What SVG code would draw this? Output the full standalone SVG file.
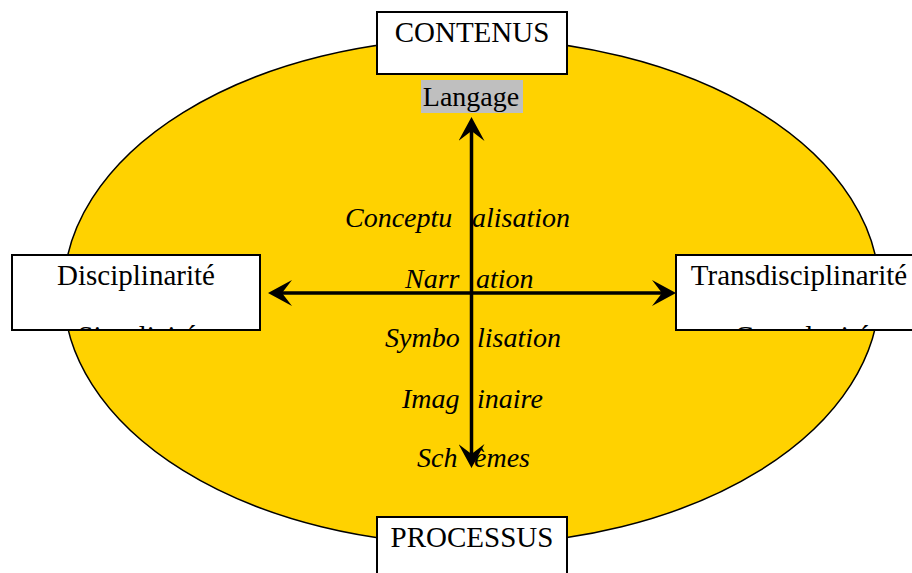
<svg xmlns="http://www.w3.org/2000/svg" width="912" height="573" viewBox="0 0 912 573">
<style>
.box{fill:#ffffff;stroke:#000000;stroke-width:2}
.t{font-family:"Liberation Serif","Times New Roman",serif;font-size:29px;fill:#000000}
.it{font-family:"Liberation Serif","Times New Roman",serif;font-size:28px;font-style:italic;fill:#000000}
.ax{stroke:#000000;stroke-width:3.5;fill:none}
</style>
<defs>
<marker id="head" markerUnits="userSpaceOnUse" viewBox="0 0 24 26" markerWidth="24" markerHeight="26" refX="10" refY="13" orient="auto-start-reverse">
<path d="M0,0 L24,13 L0,26 L10,13 Z" fill="#000000"/>
</marker>
<clipPath id="clipL"><rect x="13" y="256" width="246" height="73"/></clipPath>
<clipPath id="clipR"><rect x="677" y="256" width="244" height="73"/></clipPath>
</defs>
<rect x="0" y="0" width="912" height="573" fill="#ffffff"/>
<ellipse id="cycle" cx="471.5" cy="291.5" rx="408" ry="253" fill="#FFD200" stroke="#000000" stroke-width="1.5"/>
<g id="contenus">
<rect class="box" x="377" y="12" width="190" height="62"/>
<text class="t" x="472" y="42" text-anchor="middle">CONTENUS</text>
</g>
<g id="processus">
<rect class="box" x="377" y="517" width="190" height="70"/>
<text class="t" x="472" y="547" text-anchor="middle">PROCESSUS</text>
</g>
<g id="disciplinarite">
<rect class="box" x="12" y="255" width="248" height="75"/>
<text class="t" x="136" y="285" text-anchor="middle">Disciplinarité</text>
<text class="t" x="137" y="346" text-anchor="middle" clip-path="url(#clipL)">Simplicité</text>
</g>
<g id="transdisciplinarite">
<rect class="box" x="676" y="255" width="246" height="75"/>
<text class="t" x="799" y="285" text-anchor="middle">Transdisciplinarité</text>
<text class="t" x="802" y="346" text-anchor="middle" clip-path="url(#clipR)">Complexité</text>
</g>
<g id="langage">
<rect x="421" y="80" width="102" height="33" fill="#bfbfbf"/>
<text class="t" x="471" y="106" text-anchor="middle" style="font-size:28px">Langage</text>
</g>
<g id="niveaux">
<text class="it" y="227"><tspan x="345">Conceptu</tspan><tspan x="472">alisation</tspan></text>
<text class="it" y="288"><tspan x="405">Narr</tspan><tspan x="476">ation</tspan></text>
<text class="it" y="347"><tspan x="385">Symbo</tspan><tspan x="477">lisation</tspan></text>
<text class="it" y="408"><tspan x="402">Imag</tspan><tspan x="477">inaire</tspan></text>
<text class="it" y="467"><tspan x="417">Sch</tspan><tspan x="474">èmes</tspan></text>
</g>
<g id="connectors">
<line class="ax" x1="471.5" y1="131" x2="471.5" y2="454" marker-start="url(#head)" marker-end="url(#head)"/>
<line class="ax" x1="282" y1="293" x2="662" y2="293" marker-start="url(#head)" marker-end="url(#head)"/>
</g>
</svg>
